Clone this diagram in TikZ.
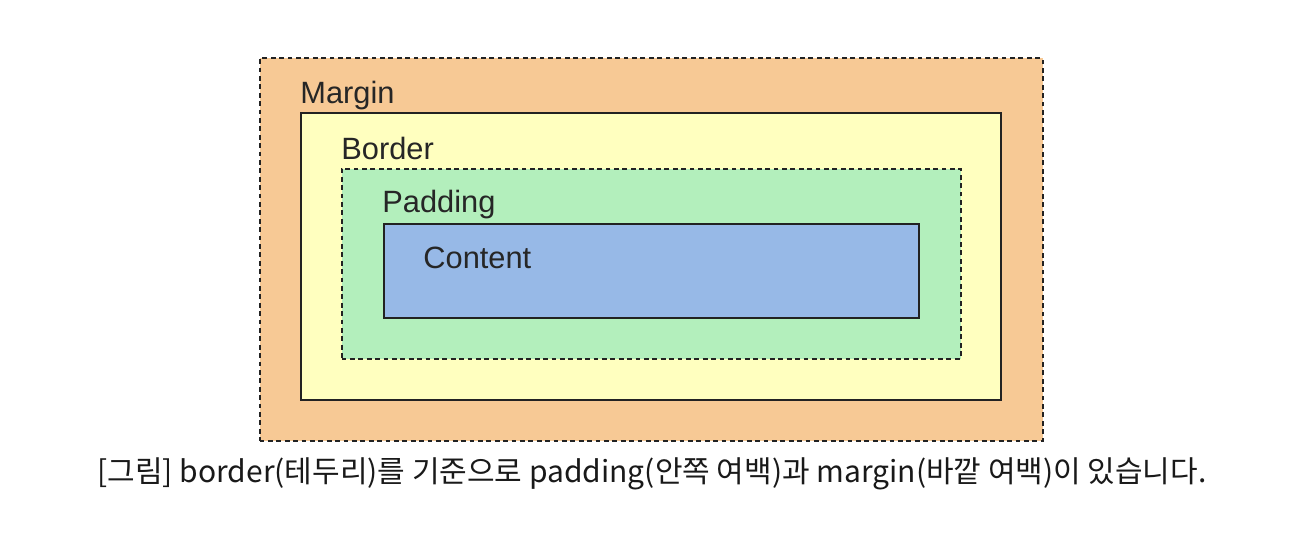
\documentclass[tikz,border=0pt]{standalone}
\usepackage{fontspec}
\setmainfont{Liberation Sans}
\newfontfamily\krfont{Noto Sans CJK KR}
\usepackage{tikz}
\usetikzlibrary{positioning}

\definecolor{marginc}{HTML}{F7C995}
\definecolor{borderc}{HTML}{FFFFBF}
\definecolor{paddingc}{HTML}{B3EFBC}
\definecolor{contentc}{HTML}{97B9E7}
\definecolor{linec}{HTML}{222222}

\tikzset{
  layer/.style={draw=linec, line width=1pt, inner sep=0pt, anchor=north west},
  dashlayer/.style={layer, dash pattern=on 2.4pt off 1.8pt},
  layertext/.style={anchor=base west, inner sep=0pt, font=\fontsize{15.4}{18}\selectfont, text=black!85}
}

\begin{document}
\begin{tikzpicture}[x=0.5pt, y=-0.5pt]
\useasboundingbox (0,0) rectangle (1306,540);
%\fill[white] (0,0) rectangle (1306,540);
\node (margin) [dashlayer, fill=marginc, minimum width=391.5pt, minimum height=191pt] at (258.5,57.5) {};
\node (border) [layer, fill=borderc, minimum width=350pt, minimum height=143pt] at (299.5,112.5) {};
\node (padding) [dashlayer, fill=paddingc, minimum width=309.5pt, minimum height=95pt] at (340.5,167.5) {};
\node (content) [layer, fill=contentc, minimum width=267.5pt, minimum height=47pt] at (382.5,222.5) {};

\begin{scope}[every node/.style={layertext}]
    \node (tmargin) at (300,104) {Margin};
    \node (tborder) at (341,159) {Border};
    \node (tpadding) at (382,213) {Padding};
    \node (tcontent) at (423,268) {Content};
\end{scope}

\node (caption) [anchor=base, inner sep=0pt, font=\krfont\fontsize{15}{18}\selectfont, text=black!90] at (652,482)
    {[그림] border(테두리)를 기준으로 padding(안쪽 여백)과 margin(바깥 여백)이 있습니다.};
\end{tikzpicture}
\end{document}
